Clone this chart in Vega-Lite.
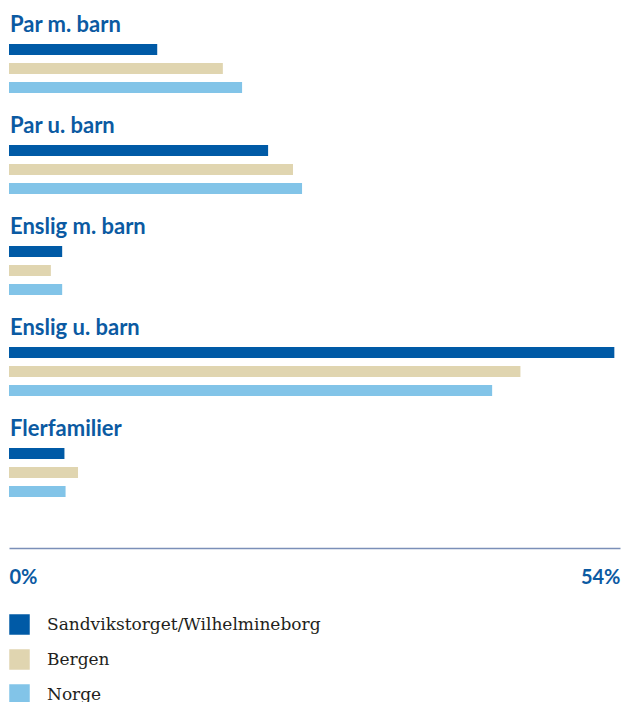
{
  "$schema": "https://vega.github.io/schema/vega-lite/v6.json",
  "width": 611,
  "height": 540,
  "padding": {"left": 9, "top": 8, "right": 1, "bottom": 0},
  "background": "white",
  "config": {"view": {"stroke": null}},
  "data": {
    "values": [
      {"category": "Par m. barn", "series": "Sandvikstorget/Wilhelmineborg", "value": 13.1},
      {"category": "Par m. barn", "series": "Bergen", "value": 18.9},
      {"category": "Par m. barn", "series": "Norge", "value": 20.6},
      {"category": "Par u. barn", "series": "Sandvikstorget/Wilhelmineborg", "value": 22.9},
      {"category": "Par u. barn", "series": "Bergen", "value": 25.1},
      {"category": "Par u. barn", "series": "Norge", "value": 25.9},
      {"category": "Enslig m. barn", "series": "Sandvikstorget/Wilhelmineborg", "value": 4.7},
      {"category": "Enslig m. barn", "series": "Bergen", "value": 3.7},
      {"category": "Enslig m. barn", "series": "Norge", "value": 4.7},
      {"category": "Enslig u. barn", "series": "Sandvikstorget/Wilhelmineborg", "value": 53.5},
      {"category": "Enslig u. barn", "series": "Bergen", "value": 45.2},
      {"category": "Enslig u. barn", "series": "Norge", "value": 42.7},
      {"category": "Flerfamilier", "series": "Sandvikstorget/Wilhelmineborg", "value": 4.9},
      {"category": "Flerfamilier", "series": "Bergen", "value": 6.1},
      {"category": "Flerfamilier", "series": "Norge", "value": 5.0}
    ]
  },
  "layer": [
    {
      "mark": {"type": "bar"},
      "encoding": {
        "y": {
          "field": "category", "type": "nominal",
          "sort": ["Par m. barn", "Par u. barn", "Enslig m. barn", "Enslig u. barn", "Flerfamilier"],
          "scale": {"range": [17, 508], "paddingInner": 0.1386, "paddingOuter": 0},
          "axis": null
        },
        "yOffset": {
          "field": "series", "type": "nominal",
          "sort": ["Sandvikstorget/Wilhelmineborg", "Bergen", "Norge"],
          "scale": {"paddingInner": 0.42, "paddingOuter": 1}
        },
        "x": {
          "field": "value", "type": "quantitative",
          "scale": {"domain": [0, 54], "nice": false, "zero": true},
          "axis": {
            "values": [0, 54],
            "labelExpr": "datum.value + '%'",
            "title": null,
            "grid": false,
            "ticks": false,
            "domainColor": "#7b8fb8",
            "domainWidth": 1.5,
            "labelFlush": true,
            "labelPadding": 19,
            "labelFont": "Lato",
            "labelFontSize": 20,
            "labelFontWeight": "bold",
            "labelColor": "#0b5aa2"
          }
        },
        "color": {
          "field": "series", "type": "nominal",
          "sort": ["Sandvikstorget/Wilhelmineborg", "Bergen", "Norge"],
          "scale": {
            "domain": ["Sandvikstorget/Wilhelmineborg", "Bergen", "Norge"],
            "range": ["#005aa6", "#e0d5b0", "#82c4e8"]
          },
          "legend": {
            "title": null,
            "orient": "none",
            "legendX": 0,
            "legendY": 606,
            "direction": "vertical",
            "symbolType": "square",
            "symbolSize": 420,
            "symbolStrokeWidth": 0,
            "rowPadding": 14,
            "labelOffset": 17,
            "labelLimit": 500,
            "labelFont": "DejaVu Serif",
            "labelFontSize": 17,
            "labelColor": "#231f20"
          }
        }
      }
    },
    {
      "transform": [{"filter": "datum.series === 'Sandvikstorget/Wilhelmineborg'"}],
      "mark": {"type": "text", "align": "left", "baseline": "alphabetic", "dy": 7, "dx": 1, "font": "Lato", "fontSize": 22, "fontWeight": "bold", "color": "#0b5aa2"},
      "encoding": {
        "y": {"field": "category", "type": "nominal", "bandPosition": 0,
          "sort": ["Par m. barn", "Par u. barn", "Enslig m. barn", "Enslig u. barn", "Flerfamilier"]},
        "x": {"datum": 0},
        "text": {"field": "category"}
      }
    }
  ]
}
